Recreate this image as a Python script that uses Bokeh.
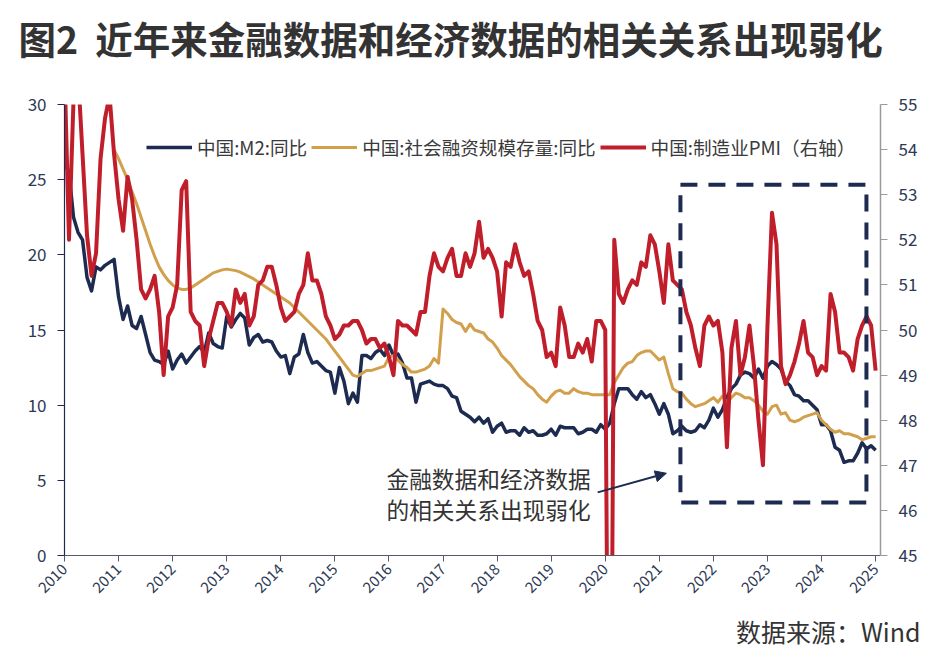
import math
import numpy as np
from bokeh.plotting import figure
from bokeh.models import (Range1d, LinearAxis, FixedTicker, Legend, LegendItem,
                          Label, BoxAnnotation, Arrow, NormalHead, Title)
from bokeh.embed import file_html
from bokeh.resources import INLINE

# ---------------- data (monthly, Jan 2010 .. Jan 2025) ----------------
start_year = 2010
year_ticks = list(range(2010, 2026))
year_labels = [str(y) for y in year_ticks]

m2_yoy = [
    26.1, 25.5, 22.5, 21.5, 21.0, 18.5, 17.6, 19.2, 19.0, 19.3, 19.5, 19.7,
    17.2, 15.7, 16.6, 15.3, 15.1, 15.9, 14.7, 13.5, 13.0, 12.9, 12.7, 13.6,
    12.4, 13.0, 13.4, 12.8, 13.2, 13.6, 13.9, 13.5, 14.8, 14.1, 13.9, 13.8,
    15.9, 15.2, 15.7, 16.1, 15.8, 14.0, 14.5, 14.7, 14.2, 14.3, 14.2, 13.6,
    13.2, 13.3, 12.1, 13.2, 13.4, 14.7, 13.5, 12.8, 12.9, 12.6, 12.3, 12.2,
    10.8, 12.5, 11.6, 10.1, 10.8, 10.2, 13.3, 13.3, 13.1, 13.5, 13.7, 13.3,
    14.0, 13.3, 13.4, 12.8, 11.8, 11.8, 10.2, 11.4, 11.5, 11.6, 11.4, 11.3,
    11.3, 11.1, 10.6, 10.5, 9.6, 9.4, 9.2, 8.9, 9.2, 8.8, 9.1, 8.2,
    8.6, 8.8, 8.2, 8.3, 8.3, 8.0, 8.5, 8.2, 8.3, 8.0, 8.0, 8.1,
    8.4, 8.0, 8.6, 8.5, 8.5, 8.5, 8.1, 8.2, 8.4, 8.4, 8.2, 8.7,
    8.4, 8.8, 10.1, 11.1, 11.1, 11.1, 10.7, 10.4, 10.9, 10.5, 10.7, 10.1,
    9.4, 10.1, 9.4, 8.1, 8.3, 8.6, 8.3, 8.2, 8.3, 8.7, 8.5, 9.0,
    9.8, 9.2, 9.7, 10.5, 11.1, 11.4, 12.0, 12.2, 12.1, 11.8, 12.4, 11.8,
    12.6, 12.9, 12.7, 12.4, 11.6, 11.3, 10.7, 10.6, 10.3, 10.3, 10.0, 9.7,
    8.7, 8.7, 8.3, 7.2, 7.0, 6.2, 6.3, 6.3, 6.8, 7.5, 7.1, 7.3,
    7.0,
]

pmi = [
    55.8, 52.0, 55.1, 55.7, 53.9, 52.1, 51.2, 51.7, 53.8, 54.7, 55.2, 53.9,
    52.9, 52.2, 53.4, 52.9, 52.0, 50.9, 50.7, 50.9, 51.2, 50.4, 49.0, 50.3,
    50.5, 51.0, 53.1, 53.3, 50.4, 50.2, 50.1, 49.2, 49.8, 50.2, 50.6, 50.6,
    50.4, 50.1, 50.9, 50.6, 50.8, 50.1, 50.3, 51.0, 51.1, 51.4, 51.4, 51.0,
    50.5, 50.2, 50.3, 50.4, 50.8, 51.0, 51.7, 51.1, 51.1, 50.8, 50.3, 50.1,
    49.8, 49.9, 50.1, 50.1, 50.2, 50.2, 50.0, 49.7, 49.8, 49.8, 49.6, 49.7,
    49.4, 49.0, 50.2, 50.1, 50.1, 50.0, 49.9, 50.4, 50.4, 51.2, 51.7, 51.4,
    51.3, 51.6, 51.8, 51.2, 51.2, 51.7, 51.4, 51.7, 52.4, 51.6, 51.8, 51.6,
    51.3, 50.3, 51.5, 51.4, 51.9, 51.5, 51.2, 51.3, 50.8, 50.2, 50.0, 49.4,
    49.5, 49.2, 50.5, 50.1, 49.4, 49.4, 49.7, 49.5, 49.8, 49.3, 50.2, 50.2,
    50.0, 35.7, 52.0, 50.8, 50.6, 50.9, 51.1, 51.0, 51.5, 51.4, 52.1, 51.9,
    51.3, 50.6, 51.9, 51.1, 51.0, 50.9, 50.4, 50.1, 49.6, 49.2, 50.1, 50.3,
    50.1, 50.2, 49.5, 47.4, 49.6, 50.2, 49.0, 49.4, 50.1, 49.2, 48.0, 47.0,
    50.1, 52.6, 51.9, 49.2, 48.8, 49.0, 49.3, 49.7, 50.2, 49.5, 49.4, 49.0,
    49.2, 49.1, 50.8, 50.4, 49.5, 49.5, 49.4, 49.1, 49.8, 50.1, 50.3, 50.1,
    49.1,
]

# social financing stock yoy, starts Dec 2010 (month index 11)
tsf_first_month = 11
tsf_yoy = [
    27.0,
    26.4, 25.7, 25.0, 24.2, 23.4, 22.5, 21.6, 20.7, 19.9, 19.2, 18.7, 18.3,
    18.0, 17.8, 17.7, 17.7, 17.8, 18.0, 18.2, 18.4, 18.6, 18.8, 18.9, 19.0,
    19.05, 19.0, 18.95, 18.85, 18.7, 18.55, 18.4, 18.2, 18.0, 17.8, 17.6, 17.4,
    17.2, 17.0, 16.8, 16.5, 16.2, 15.9, 15.6, 15.3, 15.0, 14.7, 14.4, 14.0,
    13.6, 13.2, 12.8, 12.4, 12.0, 11.9, 12.1, 12.3, 12.3, 12.4, 12.5, 12.6,
    13.2, 13.3, 13.0, 12.7, 12.5, 12.2, 12.2, 12.3, 12.4, 12.6, 13.1, 12.8,
    16.4, 16.1, 15.7, 15.5, 15.4, 14.9, 15.4, 15.0, 14.9, 14.8, 14.4, 14.2,
    13.8, 13.3, 13.0, 12.7, 12.3, 11.9, 11.6, 11.3, 11.1, 10.7, 10.4, 10.2,
    10.6, 10.9, 11.0, 10.8, 10.8, 11.1, 10.9, 10.8, 10.8, 10.7, 10.7, 10.7,
    10.7, 10.7, 11.5, 12.0, 12.5, 12.8, 12.9, 13.3, 13.5, 13.6, 13.6, 13.3,
    13.0, 13.2, 12.1, 11.1, 10.9, 10.8, 10.4, 10.1, 9.9, 10.0, 10.1, 10.3,
    10.5, 10.2, 10.6, 10.2, 10.5, 10.8, 10.7, 10.5, 10.5, 10.3, 10.0, 9.6,
    9.4, 9.9, 10.0, 9.4, 9.5, 9.0, 8.9, 9.0, 9.2, 9.3, 9.4, 9.5,
    9.0, 8.7, 8.4, 8.2, 8.3, 8.1, 8.1, 8.0, 7.9, 7.7, 7.8, 7.9,
    7.9,
]

series_names = ["中国:M2:同比", "中国:社会融资规模存量:同比", "中国:制造业PMI（右轴）"]
title_text = "图2\u00a0\u00a0近年来金融数据和经济数据的相关关系出现弱化"
note_lines = ["金融数据和经济数据", "的相关关系出现弱化"]
source_text = "数据来源：Wind"

x_m2 = start_year + np.arange(len(m2_yoy)) / 12.0
x_tsf = start_year + (tsf_first_month + np.arange(len(tsf_yoy))) / 12.0

# ---------------- style ----------------
NAVY = "#1C2B4F"
GOLD = "#D2A04C"
RED = "#C01E2B"
TXT = "#333333"
AX_TXT = "#2E3A55"
FONT = "Noto Sans CJK SC"

p = figure(width=942, height=660, output_backend="svg", toolbar_location=None,
           x_range=Range1d(2010, 2025.09), y_range=Range1d(0, 30),
           min_border_left=64, min_border_right=62, min_border_top=104,
           min_border_bottom=105, background_fill_color="white",
           border_fill_color="white")
p.outline_line_color = None
p.xgrid.grid_line_color = None
p.ygrid.grid_line_color = None
p.extra_y_ranges = {"pmi": Range1d(45, 55)}

# main title (plot's own title: outermost above panel)
p.title.text = title_text
p.title.align = "left"
p.title.offset = -46
p.title.standoff = 0
p.title.text_font = FONT
p.title.text_font_size = "37.5px"
p.title.text_font_style = "bold"
p.title.text_color = TXT

# white, blank spacer panel between the title and the frame
spacer = Title(text="\u00a0", text_font_size="2px", standoff=36, text_color="white")
p.add_layout(spacer, "above")

src = Title(text=source_text, align="right", offset=-40, standoff=20,
            text_font=FONT, text_font_size="25px", text_font_style="normal",
            text_color=TXT)
p.add_layout(src, "below")

# x axis
xa = p.xaxis[0]
xa.ticker = FixedTicker(ticks=year_ticks)
xa.major_label_overrides = {y: s for y, s in zip(year_ticks, year_labels)}
xa.major_label_orientation = math.pi / 4
xa.axis_line_color = "#555a66"
xa.axis_line_width = 1.2
xa.major_tick_line_color = "#555a66"
xa.major_tick_out = 6
xa.major_tick_in = 0
xa.minor_tick_line_color = None
xa.major_label_text_font = FONT
xa.major_label_text_font_size = "15px"
xa.major_label_text_color = AX_TXT
xa.major_label_standoff = 5

# left axis
ya = p.yaxis[0]
ya.ticker = FixedTicker(ticks=[0, 5, 10, 15, 20, 25, 30])
ya.axis_line_color = NAVY
ya.axis_line_width = 1.2
ya.major_tick_line_color = NAVY
ya.major_tick_out = 7
ya.major_tick_in = 0
ya.minor_tick_line_color = None
ya.major_label_text_font = FONT
ya.major_label_text_font_size = "17px"
ya.major_label_text_color = AX_TXT
ya.major_label_standoff = 11

# right axis
ra = LinearAxis(y_range_name="pmi", ticker=FixedTicker(ticks=list(range(45, 56))))
ra.axis_line_color = "#9a9a9a"
ra.axis_line_width = 1.5
ra.major_tick_line_color = "#9a9a9a"
ra.major_tick_out = 7
ra.major_tick_in = 0
ra.minor_tick_line_color = None
ra.major_label_text_font = FONT
ra.major_label_text_font_size = "17px"
ra.major_label_text_color = AX_TXT
ra.major_label_standoff = 11
p.add_layout(ra, "right")

# lines
r_m2 = p.line(x_m2, m2_yoy, line_color=NAVY, line_width=3.5, line_join="round")
r_tsf = p.line(x_tsf, tsf_yoy, line_color=GOLD, line_width=3, line_join="round")
r_pmi = p.line(x_m2, pmi, line_color=RED, line_width=4, line_join="round",
               y_range_name="pmi")

legend = Legend(items=[LegendItem(label=series_names[0], renderers=[r_m2]),
                       LegendItem(label=series_names[1], renderers=[r_tsf]),
                       LegendItem(label=series_names[2], renderers=[r_pmi])],
                orientation="horizontal", location=(82, 395),
                glyph_width=46, glyph_height=20, label_height=20,
                label_standoff=5, spacing=4, padding=0, margin=0,
                label_text_font=FONT, label_text_font_size="18.6px",
                label_text_color="#3a3a3a", label_text_baseline="middle",
                background_fill_alpha=0, border_line_alpha=0)
p.add_layout(legend, "center")

# dashed highlight box
p.add_layout(BoxAnnotation(left=2021.39, right=2024.83, top=24.67, bottom=3.53,
                           fill_alpha=0, line_color=NAVY, line_alpha=1.0,
                           line_width=4, line_dash="17 11"))

# arrow
p.add_layout(Arrow(x_start=2019.86, y_start=4.2, x_end=2021.13, y_end=5.47,
                   line_color=NAVY, line_width=2,
                   end=NormalHead(size=11, fill_color=NAVY, line_color=NAVY)))

# annotation text
p.add_layout(Label(x=322, y=77, x_units="screen", y_units="screen", text=note_lines[0],
                   text_font=FONT, text_font_size="22.7px", text_color=TXT,
                   text_align="left", text_baseline="middle"))
p.add_layout(Label(x=322, y=46, x_units="screen", y_units="screen", text=note_lines[1],
                   text_font=FONT, text_font_size="22.7px", text_color=TXT,
                   text_align="left", text_baseline="middle"))

open("out.html", "w").write(file_html(p, INLINE))
